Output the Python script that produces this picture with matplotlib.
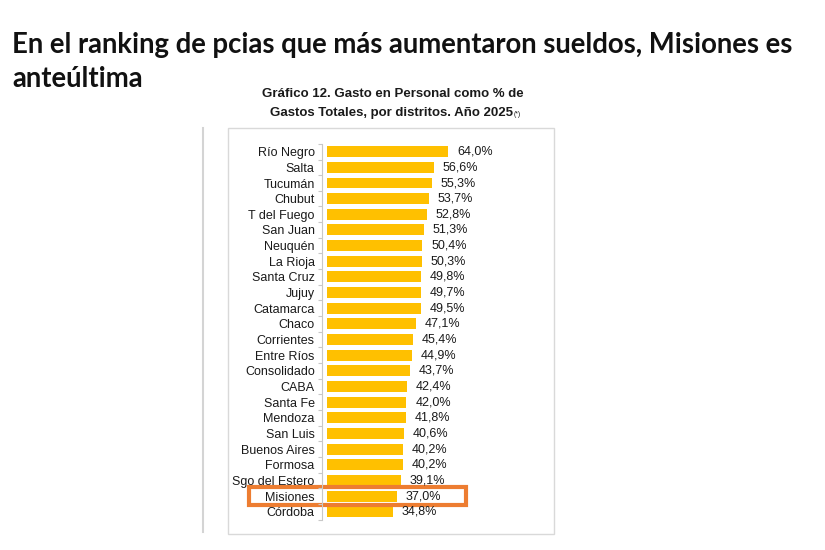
import matplotlib.pyplot as plt
import matplotlib.transforms as mtransforms
from matplotlib.patches import Rectangle
from matplotlib.lines import Line2D

plt.rcParams['font.family'] = ['Liberation Sans', 'DejaVu Sans']

provincias = ['Río Negro', 'Salta', 'Tucumán', 'Chubut', 'T del Fuego', 'San Juan',
              'Neuquén', 'La Rioja', 'Santa Cruz', 'Jujuy', 'Catamarca', 'Chaco',
              'Corrientes', 'Entre Ríos', 'Consolidado', 'CABA', 'Santa Fe', 'Mendoza',
              'San Luis', 'Buenos Aires', 'Formosa', 'Sgo del Estero', 'Misiones', 'Córdoba']
gasto = [64.0, 56.6, 55.3, 53.7, 52.8, 51.3, 50.4, 50.3, 49.8, 49.7, 49.5, 47.1,
         45.4, 44.9, 43.7, 42.4, 42.0, 41.8, 40.6, 40.2, 40.2, 39.1, 37.0, 34.8]
destacada = 'Misiones'

titulo = ['En el ranking de pcias que más aumentaron sueldos, Misiones es', 'anteúltima']
subtitulo1 = 'Gráfico 12. Gasto en Personal como % de'
subtitulo2 = 'Gastos Totales, por distritos. Año 2025'

W, H = 825, 550
fig = plt.figure(figsize=(W / 100, H / 100), dpi=100)


def fx(px):
    return px / W


def fy(py):
    return 1 - py / H


# marco del gráfico
fig.patches.append(Rectangle((fx(228), fy(534)), fx(554) - fx(228), fy(128) - fy(534),
                             transform=fig.transFigure, fill=False,
                             edgecolor='#d9d9d9', lw=1.0))
fig.lines.append(Line2D([fx(203), fx(203)], [fy(128), fy(532)], transform=fig.transFigure,
                        color='#d4d4d4', lw=1.5))

n = len(provincias)
row = (511.7 - 151.7) / (n - 1)
top = 151.7 - row / 2
bottom = top + row * n
ax = fig.add_axes([fx(326.5), fy(bottom), 200 / W, (bottom - top) / H])

y = list(range(n))
ax.barh(y, gasto, height=0.7, color='#FFC000')
ax.set_xlim(0, 200 / 1.9)
ax.set_ylim(n - 0.5, -0.5)

for yi, v in zip(y, gasto):
    ax.text(v + 4.7, yi, f'{v:.1f}%'.replace('.', ','), va='center', ha='left',
            fontsize=9, color='#1a1a1a')

ax.set_yticks(y)
ax.set_yticklabels(provincias)
ax.tick_params(axis='y', which='major', length=0, pad=5.5, labelsize=9,
               labelcolor='#1a1a1a')
ax.set_yticks([i - 0.5 for i in range(n + 1)], minor=True)
ax.tick_params(axis='y', which='minor', length=3, color='#c8c8c8', width=0.8)
ax.set_xticks([])
for s in ['top', 'right', 'bottom']:
    ax.spines[s].set_visible(False)
ax.spines['left'].set_color('#c8c8c8')
ax.spines['left'].set_linewidth(0.8)
ax.spines['left'].set_position(('outward', 3))

# recuadro naranja sobre Misiones
k = provincias.index(destacada)
tr = mtransforms.blended_transform_factory(fig.transFigure, ax.transData)
ax.add_patch(Rectangle((fx(249), k + 0.55), fx(466) - fx(249), -1.1, transform=tr,
                       fill=False, edgecolor='#ED7D31', lw=3, clip_on=False))

fig.text(fx(12), fy(53), titulo[0], fontsize=19.8, fontweight='bold', family='Lato',
         ha='left', va='baseline', color='#111111')
fig.text(fx(12), fy(87), titulo[1], fontsize=19.8, fontweight='bold', family='Lato',
         ha='left', va='baseline', color='#111111')

fig.text(fx(393), fy(97), subtitulo1, fontsize=9.5, fontweight='bold',
         ha='center', va='baseline', color='#1a1a1a')
t2 = fig.text(fx(391), fy(116), subtitulo2, fontsize=9.5, fontweight='bold',
              ha='center', va='baseline', color='#1a1a1a')
ax.annotate('(*)', xy=(1, 1), xycoords=t2, xytext=(1, -3), textcoords='offset points',
            fontsize=5, ha='left', va='top', color='#1a1a1a', annotation_clip=False)

fig.savefig('out.png', dpi=100)
